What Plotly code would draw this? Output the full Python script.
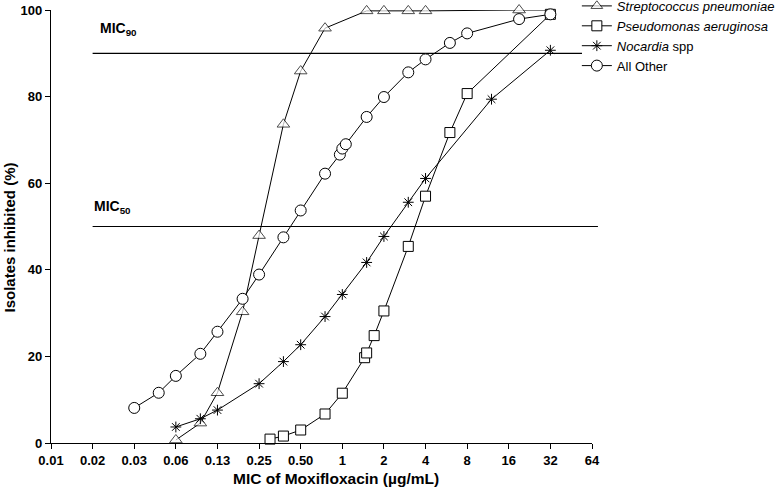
import plotly.graph_objects as go

# MIC ticks (log2 spaced, labelled as in the paper)
tick_vals = [2 ** k for k in range(-7, 7)]
tick_text = ["0.01", "0.02", "0.03", "0.06", "0.13", "0.25", "0.50",
             "1", "2", "4", "8", "16", "32", "64"]

strep_x = [0.0625, 0.094, 0.125, 0.19, 0.25, 0.375, 0.5, 0.75, 1.5, 2, 3, 4, 19, 32]
strep_y = [0.7, 4.6, 11.6, 30.3, 47.9, 73.6, 85.9, 95.8, 99.8, 99.8, 99.8, 99.8, 100, 100]

pseudo_x = [0.3, 0.375, 0.5, 0.75, 1.0, 1.45, 1.5, 1.7, 2, 3, 4, 6, 8, 32]
pseudo_y = [0.9, 1.6, 3.0, 6.7, 11.5, 19.7, 20.8, 24.8, 30.5, 45.4, 57.0, 71.7, 80.7, 99]

nocardia_x = [0.0625, 0.094, 0.125, 0.25, 0.375, 0.5, 0.75, 1, 1.5, 2, 3, 4, 12, 32]
nocardia_y = [3.7, 5.6, 7.6, 13.7, 18.8, 22.7, 29.2, 34.3, 41.7, 47.7, 55.6, 61.1, 79.4, 90.7]

other_x = [0.03125, 0.047, 0.0625, 0.094, 0.125, 0.19, 0.25, 0.375, 0.5, 0.75,
           0.96, 1.0, 1.06, 1.5, 2, 3, 4, 6, 8, 19, 32]
other_y = [8.1, 11.6, 15.5, 20.6, 25.7, 33.3, 38.9, 47.5, 53.7, 62.2,
           66.6, 68.0, 69.0, 75.3, 79.9, 85.6, 88.6, 92.4, 94.6, 97.9, 99]

mic_levels = [90, 50]
mic_labels = ["MIC<sub>90</sub>", "MIC<sub>50</sub>"]

FONT = "Arial, Liberation Sans, sans-serif"


def series(x, y, name, symbol, size):
    return go.Scatter(
        x=x, y=y, name=name, mode="lines+markers",
        line=dict(color="black", width=1),
        marker=dict(symbol=symbol, size=size, color="white",
                    line=dict(color="black", width=1)),
        cliponaxis=False,
    )


fig = go.Figure()
# last strep point sits under the 32 markers of the other series
fig.add_trace(series(strep_x, strep_y, "<i>Streptococcus pneumoniae</i>", "triangle-up",
                     [11] * (len(strep_x) - 1) + [0]))
fig.add_trace(series(pseudo_x, pseudo_y, "<i>Pseudomonas aeruginosa</i>", "square", 10))
fig.add_trace(go.Scatter(
    x=nocardia_x, y=nocardia_y, name="<i>Nocardia</i> spp", mode="lines+markers",
    line=dict(color="black", width=1),
    marker=dict(symbol="asterisk-open", size=9, line=dict(color="black", width=1)),
    cliponaxis=False,
))
fig.add_trace(series(other_x, other_y, "All Other", "circle", 11))

# MIC reference lines, start at 0.02 and run a little past the data
for lvl, x1 in zip(mic_levels, [0.9815, 1.011]):
    fig.add_shape(type="line", xref="paper", yref="y", x0=1 / 13, x1=x1,
                  y0=lvl, y1=lvl, line=dict(color="black", width=1.2), layer="below")

fig.add_annotation(x=0.087, y=95.6, xref="paper", yref="y", text="<b>" + mic_labels[0] + "</b>",
                   showarrow=False, xanchor="left", yanchor="middle",
                   font=dict(size=14, family=FONT, color="black"))
fig.add_annotation(x=0.0758, y=54.6, xref="paper", yref="y", text="<b>" + mic_labels[1] + "</b>",
                   showarrow=False, xanchor="left", yanchor="middle",
                   font=dict(size=14, family=FONT, color="black"))

# axis titles (placed as annotations so they sit where the original has them)
fig.add_annotation(x=0.527, y=-0.083, xref="paper", yref="paper",
                   xanchor="center", yanchor="middle",
                   text="<b>MIC of Moxifloxacin (µg/mL)</b>", showarrow=False,
                   font=dict(size=15.5, family=FONT, color="black"))
fig.add_annotation(x=-0.0758, y=0.4746, xref="paper", yref="paper", textangle=-90,
                   xanchor="center", yanchor="middle",
                   text="<b>Isolates inhibited (%)</b>", showarrow=False,
                   font=dict(size=15, family=FONT, color="black"))

fig.update_layout(
    width=780, height=490,
    margin=dict(l=51, r=188, t=10, b=47, autoexpand=False),
    plot_bgcolor="white", paper_bgcolor="white",
    font=dict(family=FONT, color="black", size=13),
    legend=dict(x=0.972, y=1.044, xanchor="left", yanchor="top",
                font=dict(size=13), bgcolor="rgba(0,0,0,0)",
                tracegroupgap=0),
)
fig.update_xaxes(
    type="log", range=[-7 * 0.30103, 6 * 0.30103],
    tickvals=tick_vals, ticktext=["<b>%s</b>" % t for t in tick_text],
    ticks="outside", ticklen=5, tickcolor="black",
    showline=True, linecolor="black", linewidth=1.2, showgrid=False, zeroline=False,
)
fig.update_yaxes(
    range=[0, 100], tickvals=[0, 20, 40, 60, 80, 100],
    ticktext=["<b>%d</b>" % v for v in [0, 20, 40, 60, 80, 100]],
    ticks="outside", ticklen=5, tickcolor="black",
    showline=True, linecolor="black", linewidth=1.2, showgrid=False, zeroline=False,
)

# page body has an 8px default margin; drop it so the figure fills the window
fig.write_html("out.html", config={"displayModeBar": False},
               post_script="document.body.style.margin='0px';")
